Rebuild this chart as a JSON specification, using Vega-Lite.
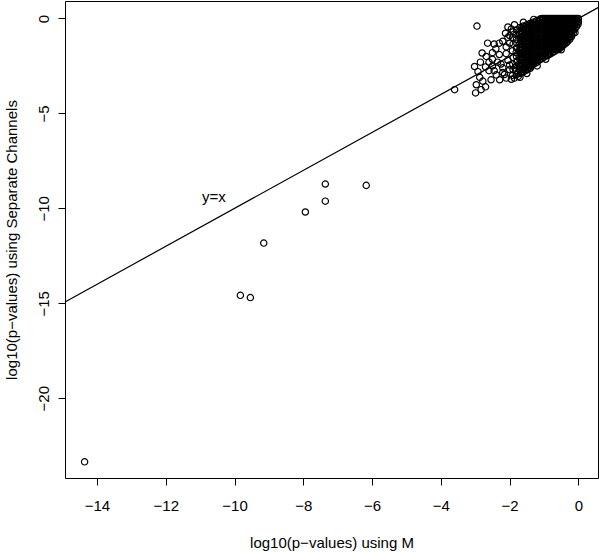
{
  "$schema": "https://vega.github.io/schema/vega-lite/v6.json",
  "width": 533,
  "height": 477,
  "autosize": "none",
  "padding": {"left": 65, "top": 1, "right": 2, "bottom": 75},
  "config": {
    "font": "Liberation Sans",
    "view": {"stroke": "black", "strokeWidth": 1},
    "axis": {"grid": false, "domain": false, "tickColor": "black", "tickSize": 7, "labelColor": "black", "labelFontSize": 15, "titleFontSize": 15, "titleFontWeight": "normal", "titleColor": "black", "labelFont": "Liberation Sans", "titleFont": "Liberation Sans"}
  },
  "datasets": {
    "pts": [
      {"x": -14.36, "y": -23.35},
      {"x": -7.36, "y": -8.72}, {"x": -6.17, "y": -8.79}, {"x": -7.36, "y": -9.62}, {"x": -7.94, "y": -10.19},
      {"x": -9.15, "y": -11.83}, {"x": -9.83, "y": -14.58}, {"x": -9.54, "y": -14.7}, {"x": -3.6, "y": -3.75},
      {"x": -2.95, "y": -0.4}, {"x": -1.86, "y": -0.33}, {"x": -2.12, "y": -0.78}, {"x": -2.64, "y": -1.3}, {"x": -2.45, "y": -1.35},
      {"x": -2.8, "y": -1.82}, {"x": -2.68, "y": -2.0}, {"x": -3.02, "y": -2.53}, {"x": -2.92, "y": -2.8}, {"x": -2.97, "y": -3.49},
      {"x": -2.83, "y": -3.75}, {"x": -2.99, "y": -3.92}, {"x": -2.78, "y": -3.3}, {"x": -2.54, "y": -3.23}, {"x": -2.39, "y": -2.97},
      {"x": -2.29, "y": -3.23}, {"x": -2.1, "y": -3.14}, {"x": -1.86, "y": -3.14}, {"x": -2.2, "y": -2.6}, {"x": -2.5, "y": -2.5},
      {"x": -1.4, "y": -2.62}, {"x": -2.3, "y": -1.9}, {"x": -2.4, "y": -1.6}, {"x": -2.1, "y": -1.5}, {"x": -2.05, "y": -2.2},
      {"x": -2.2, "y": -1.2}, {"x": -2.0, "y": -0.9}, {"x": -2.35, "y": -2.3}, {"x": -2.6, "y": -2.75}, {"x": -1.7, "y": -3.1},
      {"x": -1.5, "y": -2.9}, {"x": -1.2, "y": -2.5}, {"x": -0.95, "y": -2.15}, {"x": -0.5, "y": -1.65}, {"x": -0.1, "y": -0.75},
      {"x": -1.6, "y": -0.2}, {"x": -1.3, "y": -0.05}, {"x": -2.05, "y": -0.45}, {"x": -2.7, "y": -3.6}, {"x": -2.87, "y": -3.1},
      {"x": -2.5, "y": -2.15}, {"x": -2.2, "y": -2.85},
      {"x": -2.0, "y": -2.7}, {"x": -1.95, "y": -3.2}, {"x": -2.15, "y": -2.95}, {"x": -1.75, "y": -3.05}, {"x": -2.25, "y": -2.4},
      {"x": -2.0, "y": -2.45}, {"x": -1.85, "y": -2.6}, {"x": -2.1, "y": -1.85}, {"x": -2.0, "y": -1.3}, {"x": -2.05, "y": -1.0},
      {"x": -1.95, "y": -0.55}, {"x": -2.3, "y": -1.3}, {"x": -2.5, "y": -1.8}, {"x": -2.6, "y": -2.3}, {"x": -2.45, "y": -2.75},
      {"x": -2.7, "y": -2.55}, {"x": -2.85, "y": -2.3},
      {"x": -0.05, "y": 0}, {"x": -0.1, "y": 0}, {"x": -0.15, "y": 0}, {"x": -0.25, "y": 0}, {"x": -0.3, "y": 0}, {"x": -0.35, "y": 0},
      {"x": -0.45, "y": 0}, {"x": -0.5, "y": 0}, {"x": -0.55, "y": 0}, {"x": -0.65, "y": 0}, {"x": -0.7, "y": 0}, {"x": -0.75, "y": 0},
      {"x": -0.85, "y": 0}, {"x": -0.9, "y": 0}, {"x": -0.95, "y": 0}, {"x": -1.05, "y": 0}, {"x": -1.1, "y": -0.02},
      {"x": 0, "y": 0}, {"x": 0, "y": -0.17}, {"x": -0.01, "y": -0.3},
      {"x": -0.1, "y": -0.02}, {"x": -0.1, "y": -0.2}, {"x": -0.11, "y": -0.37}, {"x": -0.1, "y": -0.55},
      {"x": -0.2, "y": 0}, {"x": -0.2, "y": -0.17}, {"x": -0.21, "y": -0.34}, {"x": -0.2, "y": -0.51}, {"x": -0.19, "y": -0.68}, {"x": -0.2, "y": -0.85}, {"x": -0.2, "y": -0.95},
      {"x": -0.3, "y": -0.05}, {"x": -0.3, "y": -0.22}, {"x": -0.31, "y": -0.39}, {"x": -0.3, "y": -0.56}, {"x": -0.29, "y": -0.73}, {"x": -0.3, "y": -0.9}, {"x": -0.3, "y": -1.07}, {"x": -0.31, "y": -1.2},
      {"x": -0.4, "y": 0}, {"x": -0.4, "y": -0.17}, {"x": -0.41, "y": -0.34}, {"x": -0.4, "y": -0.51}, {"x": -0.39, "y": -0.68}, {"x": -0.4, "y": -0.85}, {"x": -0.4, "y": -1.02}, {"x": -0.41, "y": -1.19}, {"x": -0.4, "y": -1.35},
      {"x": -0.5, "y": -0.05}, {"x": -0.5, "y": -0.22}, {"x": -0.51, "y": -0.39}, {"x": -0.5, "y": -0.56}, {"x": -0.49, "y": -0.73}, {"x": -0.5, "y": -0.9}, {"x": -0.5, "y": -1.07}, {"x": -0.51, "y": -1.24}, {"x": -0.5, "y": -1.41}, {"x": -0.49, "y": -1.5},
      {"x": -0.6, "y": 0}, {"x": -0.6, "y": -0.17}, {"x": -0.61, "y": -0.34}, {"x": -0.6, "y": -0.51}, {"x": -0.59, "y": -0.68}, {"x": -0.6, "y": -0.85}, {"x": -0.6, "y": -1.02}, {"x": -0.61, "y": -1.19}, {"x": -0.6, "y": -1.36}, {"x": -0.59, "y": -1.53}, {"x": -0.6, "y": -1.65},
      {"x": -0.7, "y": -0.05}, {"x": -0.7, "y": -0.22}, {"x": -0.71, "y": -0.39}, {"x": -0.7, "y": -0.56}, {"x": -0.69, "y": -0.73}, {"x": -0.7, "y": -0.9}, {"x": -0.7, "y": -1.07}, {"x": -0.71, "y": -1.24}, {"x": -0.7, "y": -1.41}, {"x": -0.69, "y": -1.58}, {"x": -0.7, "y": -1.75},
      {"x": -0.8, "y": 0}, {"x": -0.8, "y": -0.17}, {"x": -0.81, "y": -0.34}, {"x": -0.8, "y": -0.51}, {"x": -0.79, "y": -0.68}, {"x": -0.8, "y": -0.85}, {"x": -0.8, "y": -1.02}, {"x": -0.81, "y": -1.19}, {"x": -0.8, "y": -1.36}, {"x": -0.79, "y": -1.53}, {"x": -0.8, "y": -1.7}, {"x": -0.8, "y": -1.85},
      {"x": -0.9, "y": -0.05}, {"x": -0.9, "y": -0.22}, {"x": -0.91, "y": -0.39}, {"x": -0.9, "y": -0.56}, {"x": -0.89, "y": -0.73}, {"x": -0.9, "y": -0.9}, {"x": -0.9, "y": -1.07}, {"x": -0.91, "y": -1.24}, {"x": -0.9, "y": -1.41}, {"x": -0.89, "y": -1.58}, {"x": -0.9, "y": -1.75}, {"x": -0.9, "y": -1.95},
      {"x": -1.0, "y": 0}, {"x": -1.0, "y": -0.17}, {"x": -1.01, "y": -0.34}, {"x": -1.0, "y": -0.51}, {"x": -0.99, "y": -0.68}, {"x": -1.0, "y": -0.85}, {"x": -1.0, "y": -1.02}, {"x": -1.01, "y": -1.19}, {"x": -1.0, "y": -1.36}, {"x": -0.99, "y": -1.53}, {"x": -1.0, "y": -1.7}, {"x": -1.0, "y": -1.87}, {"x": -1.01, "y": -2.05},
      {"x": -1.1, "y": -0.08}, {"x": -1.1, "y": -0.25}, {"x": -1.11, "y": -0.42}, {"x": -1.1, "y": -0.59}, {"x": -1.09, "y": -0.76}, {"x": -1.1, "y": -0.93}, {"x": -1.1, "y": -1.1}, {"x": -1.11, "y": -1.27}, {"x": -1.1, "y": -1.44}, {"x": -1.09, "y": -1.61}, {"x": -1.1, "y": -1.78}, {"x": -1.1, "y": -1.95}, {"x": -1.1, "y": -2.15},
      {"x": -1.2, "y": -0.1}, {"x": -1.2, "y": -0.27}, {"x": -1.21, "y": -0.44}, {"x": -1.2, "y": -0.61}, {"x": -1.19, "y": -0.78}, {"x": -1.2, "y": -0.95}, {"x": -1.2, "y": -1.12}, {"x": -1.21, "y": -1.29}, {"x": -1.2, "y": -1.46}, {"x": -1.19, "y": -1.63}, {"x": -1.2, "y": -1.8}, {"x": -1.2, "y": -1.97}, {"x": -1.21, "y": -2.14}, {"x": -1.2, "y": -2.3},
      {"x": -1.3, "y": -0.18}, {"x": -1.3, "y": -0.35}, {"x": -1.31, "y": -0.52}, {"x": -1.3, "y": -0.69}, {"x": -1.29, "y": -0.86}, {"x": -1.3, "y": -1.03}, {"x": -1.3, "y": -1.2}, {"x": -1.31, "y": -1.37}, {"x": -1.3, "y": -1.54}, {"x": -1.29, "y": -1.71}, {"x": -1.3, "y": -1.88}, {"x": -1.3, "y": -2.05}, {"x": -1.31, "y": -2.22}, {"x": -1.3, "y": -2.4},
      {"x": -1.4, "y": -0.25}, {"x": -1.4, "y": -0.42}, {"x": -1.41, "y": -0.59}, {"x": -1.4, "y": -0.76}, {"x": -1.39, "y": -0.93}, {"x": -1.4, "y": -1.1}, {"x": -1.4, "y": -1.27}, {"x": -1.41, "y": -1.44}, {"x": -1.4, "y": -1.61}, {"x": -1.39, "y": -1.78}, {"x": -1.4, "y": -1.95}, {"x": -1.4, "y": -2.12}, {"x": -1.41, "y": -2.29}, {"x": -1.4, "y": -2.46}, {"x": -1.39, "y": -2.55},
      {"x": -1.5, "y": -0.33}, {"x": -1.5, "y": -0.5}, {"x": -1.51, "y": -0.67}, {"x": -1.5, "y": -0.84}, {"x": -1.49, "y": -1.01}, {"x": -1.5, "y": -1.18}, {"x": -1.5, "y": -1.35}, {"x": -1.51, "y": -1.52}, {"x": -1.5, "y": -1.69}, {"x": -1.49, "y": -1.86}, {"x": -1.5, "y": -2.03}, {"x": -1.5, "y": -2.2}, {"x": -1.51, "y": -2.37}, {"x": -1.5, "y": -2.54}, {"x": -1.49, "y": -2.7},
      {"x": -1.6, "y": -0.4}, {"x": -1.6, "y": -0.57}, {"x": -1.61, "y": -0.74}, {"x": -1.6, "y": -0.91}, {"x": -1.59, "y": -1.08}, {"x": -1.6, "y": -1.25}, {"x": -1.6, "y": -1.42}, {"x": -1.61, "y": -1.59}, {"x": -1.6, "y": -1.76}, {"x": -1.59, "y": -1.93}, {"x": -1.6, "y": -2.1}, {"x": -1.6, "y": -2.27}, {"x": -1.61, "y": -2.44}, {"x": -1.6, "y": -2.61}, {"x": -1.59, "y": -2.8},
      {"x": -1.7, "y": -0.48}, {"x": -1.7, "y": -0.65}, {"x": -1.71, "y": -0.82}, {"x": -1.7, "y": -0.99}, {"x": -1.69, "y": -1.16}, {"x": -1.7, "y": -1.33}, {"x": -1.7, "y": -1.5}, {"x": -1.71, "y": -1.67}, {"x": -1.7, "y": -1.84}, {"x": -1.69, "y": -2.01}, {"x": -1.7, "y": -2.18}, {"x": -1.7, "y": -2.35}, {"x": -1.71, "y": -2.52}, {"x": -1.7, "y": -2.69}, {"x": -1.69, "y": -2.9},
      {"x": -1.8, "y": -0.6}, {"x": -1.81, "y": -0.85}, {"x": -1.8, "y": -1.1}, {"x": -1.79, "y": -1.3}, {"x": -1.8, "y": -1.55}, {"x": -1.81, "y": -1.8}, {"x": -1.8, "y": -2.0}, {"x": -1.79, "y": -2.25}, {"x": -1.8, "y": -2.5}, {"x": -1.81, "y": -2.75}, {"x": -1.8, "y": -2.95},
      {"x": -1.9, "y": -0.7}, {"x": -1.91, "y": -1.0}, {"x": -1.9, "y": -1.35}, {"x": -1.92, "y": -1.7}, {"x": -1.9, "y": -2.05}, {"x": -1.91, "y": -2.4}, {"x": -1.9, "y": -2.7}, {"x": -1.92, "y": -3.0},
      {"x": -0.05, "y": -0.08}, {"x": -0.05, "y": -0.25}, {"x": -0.05, "y": -0.42},
      {"x": -0.15, "y": -0.08}, {"x": -0.15, "y": -0.25}, {"x": -0.15, "y": -0.42}, {"x": -0.15, "y": -0.59}, {"x": -0.15, "y": -0.76},
      {"x": -0.25, "y": -0.11}, {"x": -0.25, "y": -0.28}, {"x": -0.25, "y": -0.45}, {"x": -0.25, "y": -0.62}, {"x": -0.25, "y": -0.79}, {"x": -0.25, "y": -0.96}, {"x": -0.25, "y": -1.1},
      {"x": -0.35, "y": -0.11}, {"x": -0.35, "y": -0.28}, {"x": -0.35, "y": -0.45}, {"x": -0.35, "y": -0.62}, {"x": -0.35, "y": -0.79}, {"x": -0.35, "y": -0.96}, {"x": -0.35, "y": -1.13}, {"x": -0.35, "y": -1.28},
      {"x": -0.45, "y": -0.11}, {"x": -0.45, "y": -0.28}, {"x": -0.45, "y": -0.45}, {"x": -0.45, "y": -0.62}, {"x": -0.45, "y": -0.79}, {"x": -0.45, "y": -0.96}, {"x": -0.45, "y": -1.13}, {"x": -0.45, "y": -1.3}, {"x": -0.45, "y": -1.43},
      {"x": -0.55, "y": -0.11}, {"x": -0.55, "y": -0.28}, {"x": -0.55, "y": -0.45}, {"x": -0.55, "y": -0.62}, {"x": -0.55, "y": -0.79}, {"x": -0.55, "y": -0.96}, {"x": -0.55, "y": -1.13}, {"x": -0.55, "y": -1.3}, {"x": -0.55, "y": -1.47}, {"x": -0.55, "y": -1.58},
      {"x": -0.65, "y": -0.11}, {"x": -0.65, "y": -0.28}, {"x": -0.65, "y": -0.45}, {"x": -0.65, "y": -0.62}, {"x": -0.65, "y": -0.79}, {"x": -0.65, "y": -0.96}, {"x": -0.65, "y": -1.13}, {"x": -0.65, "y": -1.3}, {"x": -0.65, "y": -1.47}, {"x": -0.65, "y": -1.64},
      {"x": -0.75, "y": -0.11}, {"x": -0.75, "y": -0.28}, {"x": -0.75, "y": -0.45}, {"x": -0.75, "y": -0.62}, {"x": -0.75, "y": -0.79}, {"x": -0.75, "y": -0.96}, {"x": -0.75, "y": -1.13}, {"x": -0.75, "y": -1.3}, {"x": -0.75, "y": -1.47}, {"x": -0.75, "y": -1.64}, {"x": -0.75, "y": -1.78},
      {"x": -0.85, "y": -0.11}, {"x": -0.85, "y": -0.28}, {"x": -0.85, "y": -0.45}, {"x": -0.85, "y": -0.62}, {"x": -0.85, "y": -0.79}, {"x": -0.85, "y": -0.96}, {"x": -0.85, "y": -1.13}, {"x": -0.85, "y": -1.3}, {"x": -0.85, "y": -1.47}, {"x": -0.85, "y": -1.64}, {"x": -0.85, "y": -1.81}, {"x": -0.85, "y": -1.9},
      {"x": -0.95, "y": -0.11}, {"x": -0.95, "y": -0.28}, {"x": -0.95, "y": -0.45}, {"x": -0.95, "y": -0.62}, {"x": -0.95, "y": -0.79}, {"x": -0.95, "y": -0.96}, {"x": -0.95, "y": -1.13}, {"x": -0.95, "y": -1.3}, {"x": -0.95, "y": -1.47}, {"x": -0.95, "y": -1.64}, {"x": -0.95, "y": -1.81}, {"x": -0.95, "y": -1.98},
      {"x": -1.05, "y": -0.1}, {"x": -1.05, "y": -0.27}, {"x": -1.05, "y": -0.44}, {"x": -1.05, "y": -0.61}, {"x": -1.05, "y": -0.78}, {"x": -1.05, "y": -0.95}, {"x": -1.05, "y": -1.12}, {"x": -1.05, "y": -1.29}, {"x": -1.05, "y": -1.46}, {"x": -1.05, "y": -1.63}, {"x": -1.05, "y": -1.8}, {"x": -1.05, "y": -1.97}, {"x": -1.05, "y": -2.1},
      {"x": -1.15, "y": -0.16}, {"x": -1.15, "y": -0.33}, {"x": -1.15, "y": -0.5}, {"x": -1.15, "y": -0.67}, {"x": -1.15, "y": -0.84}, {"x": -1.15, "y": -1.01}, {"x": -1.15, "y": -1.18}, {"x": -1.15, "y": -1.35}, {"x": -1.15, "y": -1.52}, {"x": -1.15, "y": -1.69}, {"x": -1.15, "y": -1.86}, {"x": -1.15, "y": -2.03}, {"x": -1.15, "y": -2.2},
      {"x": -1.25, "y": -0.2}, {"x": -1.25, "y": -0.37}, {"x": -1.25, "y": -0.54}, {"x": -1.25, "y": -0.71}, {"x": -1.25, "y": -0.88}, {"x": -1.25, "y": -1.05}, {"x": -1.25, "y": -1.22}, {"x": -1.25, "y": -1.39}, {"x": -1.25, "y": -1.56}, {"x": -1.25, "y": -1.73}, {"x": -1.25, "y": -1.9}, {"x": -1.25, "y": -2.07}, {"x": -1.25, "y": -2.24}, {"x": -1.25, "y": -2.35},
      {"x": -1.35, "y": -0.27}, {"x": -1.35, "y": -0.44}, {"x": -1.35, "y": -0.61}, {"x": -1.35, "y": -0.78}, {"x": -1.35, "y": -0.95}, {"x": -1.35, "y": -1.12}, {"x": -1.35, "y": -1.29}, {"x": -1.35, "y": -1.46}, {"x": -1.35, "y": -1.63}, {"x": -1.35, "y": -1.8}, {"x": -1.35, "y": -1.97}, {"x": -1.35, "y": -2.14}, {"x": -1.35, "y": -2.31}, {"x": -1.35, "y": -2.47},
      {"x": -1.45, "y": -0.36}, {"x": -1.45, "y": -0.53}, {"x": -1.45, "y": -0.7}, {"x": -1.45, "y": -0.87}, {"x": -1.45, "y": -1.04}, {"x": -1.45, "y": -1.21}, {"x": -1.45, "y": -1.38}, {"x": -1.45, "y": -1.55}, {"x": -1.45, "y": -1.72}, {"x": -1.45, "y": -1.89}, {"x": -1.45, "y": -2.06}, {"x": -1.45, "y": -2.23}, {"x": -1.45, "y": -2.4}, {"x": -1.45, "y": -2.6},
      {"x": -1.55, "y": -0.42}, {"x": -1.55, "y": -0.59}, {"x": -1.55, "y": -0.76}, {"x": -1.55, "y": -0.93}, {"x": -1.55, "y": -1.1}, {"x": -1.55, "y": -1.27}, {"x": -1.55, "y": -1.44}, {"x": -1.55, "y": -1.61}, {"x": -1.55, "y": -1.78}, {"x": -1.55, "y": -1.95}, {"x": -1.55, "y": -2.12}, {"x": -1.55, "y": -2.29}, {"x": -1.55, "y": -2.46}, {"x": -1.55, "y": -2.63}, {"x": -1.55, "y": -2.75},
      {"x": -1.65, "y": -0.5}, {"x": -1.65, "y": -0.67}, {"x": -1.65, "y": -0.84}, {"x": -1.65, "y": -1.01}, {"x": -1.65, "y": -1.18}, {"x": -1.65, "y": -1.35}, {"x": -1.65, "y": -1.52}, {"x": -1.65, "y": -1.69}, {"x": -1.65, "y": -1.86}, {"x": -1.65, "y": -2.03}, {"x": -1.65, "y": -2.2}, {"x": -1.65, "y": -2.37}, {"x": -1.65, "y": -2.54}, {"x": -1.65, "y": -2.71}, {"x": -1.65, "y": -2.85}
    ],
    "ref": [{"x": -14.93, "y": -14.93}, {"x": 0.57, "y": 0.57}],
    "lab": [{"x": -10.6, "y": -9.4, "t": "y=x"}]
  },
  "layer": [
    {
      "data": {"name": "ref"},
      "mark": {"type": "line", "color": "black", "strokeWidth": 1.2},
      "encoding": {
        "x": {"field": "x", "type": "quantitative", "scale": {"domain": [-14.93, 0.57], "nice": false, "zero": false},
          "axis": {"values": [-14, -12, -10, -8, -6, -4, -2, 0], "format": "d", "labelPadding": 13, "title": "log10(p−values) using M", "titlePadding": 22}},
        "y": {"field": "y", "type": "quantitative", "scale": {"domain": [-24.2, 0.92], "nice": false, "zero": false},
          "axis": {"values": [0, -5, -10, -15, -20], "format": "d", "labelAngle": -90, "labelAlign": "center", "labelBaseline": "bottom", "labelPadding": 7, "title": "log10(p−values) using Separate Channels", "titlePadding": 17}}
      }
    },
    {
      "data": {"name": "pts"},
      "mark": {"type": "point", "shape": "circle", "filled": false, "stroke": "black", "strokeWidth": 1.2, "size": 40, "opacity": 1},
      "encoding": {
        "x": {"field": "x", "type": "quantitative"},
        "y": {"field": "y", "type": "quantitative"}
      }
    },
    {
      "data": {"name": "lab"},
      "mark": {"type": "text", "fontSize": 15, "font": "Liberation Sans", "color": "black"},
      "encoding": {
        "x": {"field": "x", "type": "quantitative"},
        "y": {"field": "y", "type": "quantitative"},
        "text": {"field": "t"}
      }
    }
  ]
}
